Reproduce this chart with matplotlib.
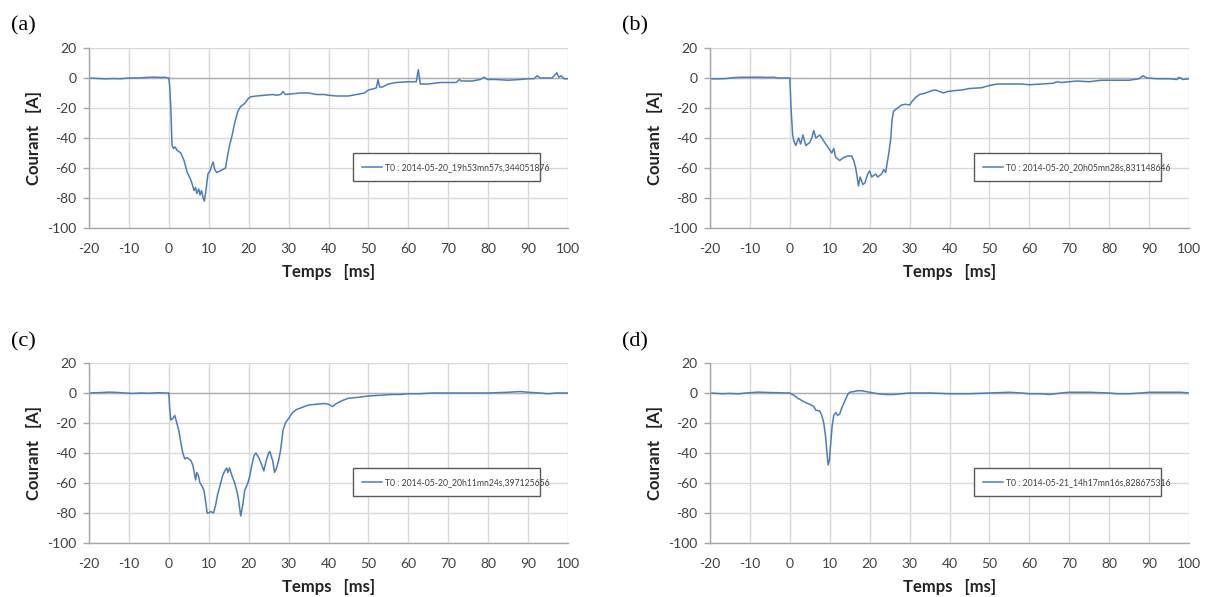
import matplotlib.pyplot as plt
import numpy as np

plt.rcParams['axes.unicode_minus'] = False

# current traces (time in ms, current in A)
t_a = [-20, -18, -16, -14, -12, -10, -8, -6, -4, -2, -1, 0, 0.2, 0.5, 0.8, 1.2, 1.6, 2, 3, 3.8,
       4.3, 4.6, 5, 5.5, 6, 6.3, 6.7, 7, 7.5, 7.8, 8.2, 8.6, 8.9, 9.3, 9.8, 10.3, 10.8, 11.1,
       11.5, 12, 12.8, 13.5, 14.2, 14.7, 15.2, 15.7, 16.5, 17.3, 18, 19, 19.8, 20.5, 22, 24,
       26, 27, 28, 28.6, 29.2, 31, 33, 35, 37, 39, 40, 42, 45, 47, 49, 50, 51.5, 52, 52.4,
       52.8, 53.5, 55, 57, 60, 62, 62.5, 63, 65, 68, 70, 72, 72.8, 73.2, 76, 78, 79, 79.8,
       82, 85, 88, 90, 91.5, 92.3, 93, 96, 97.2, 97.7, 98.3, 99, 100]
i_a = [0, -0.3, -0.6, -0.4, -0.5, 0, 0, 0.3, 0.6, 0.4, 0.5, 0, -5, -20, -45, -47, -46, -48, -50, -55,
       -60, -63, -65, -68, -72, -75, -73, -77, -74, -78, -75, -80, -82, -75, -64, -62, -58, -56,
       -61, -63, -62, -61, -60, -52, -45, -40, -30, -22, -19, -17, -14, -12.5, -12, -11.5,
       -11, -11.5, -11, -9, -11, -10.5, -10, -10, -11, -11, -11.5, -12, -12, -11, -10, -8, -7, -6.5, -1,
       -6, -6, -4, -3, -2.5, -2.5, 5.5, -4, -4, -3, -3, -3, -1, -2, -2, -1, 0.5, -1,
       -1, -1.5, -1, -0.5, -0.5, 1.5, 0, 0, 3.5, 0.5, 1.5, -0.5, -0.5]

t_b = [-20, -18, -16, -14, -12, -10, -8, -6, -4, -3, -1, 0, 0.3, 0.7, 1.0, 1.5, 2.2, 2.7, 3.3, 4.0,
       5, 5.5, 6, 6.5, 7.5, 8.5, 9, 10, 10.5, 11, 11.5, 12.5, 13.5, 14.5, 15.5, 16, 16.5, 16.8,
       17.2, 17.6, 18.3, 18.8, 19.5, 20, 20.5, 21.5, 22, 23, 23.5, 24, 24.3, 24.8, 25.3, 25.6,
       26, 27, 28, 29, 30, 30.5, 31.5, 32.5, 34, 35.5, 36.5, 37.5, 38.5, 39.5, 41, 43, 45, 48,
       50, 52, 55, 58, 60, 63, 66, 67, 68, 72, 75, 78, 81, 85, 87.5, 88.5, 89.5, 92, 95, 97,
       97.5, 98.5, 100]
i_b = [-0.5, -0.6, -0.4, 0.3, 0.5, 0.5, 0.6, 0.4, 0.5, 0, 0, 0, -20, -38, -42, -45, -40, -44, -38, -45,
       -43, -40, -35, -40, -38, -42, -44, -48, -50, -47, -53, -55, -53, -52, -52, -55, -60, -65,
       -72, -66, -71, -70, -64, -62, -66, -64, -66, -64, -61, -63, -58, -50, -40, -28,
       -22, -20, -18, -17.5, -18, -16, -13, -11, -10, -8.5, -8, -9, -10, -9, -8.5, -8, -7, -6.5,
       -5, -4, -4, -4, -4.5, -4, -3.5, -2.5, -3, -2, -2.5, -1.5, -1.5, -1.5, -0.5, 1.5, 0, -0.5, -0.5, -1,
       0.5, -1, -0.5]

t_c = [-20, -17, -15, -13, -11, -9, -7, -5, -3, -1, 0, 0.2, 0.5, 1, 1.5, 2, 2.5, 3, 3.5, 4,
       4.5, 5.5, 6, 6.3, 6.7, 7, 7.4, 7.8, 8.3, 8.8, 9.2, 9.6, 10, 10.5, 11.2, 11.7, 12.2, 12.8,
       13.5, 14, 14.5, 14.8, 15.2, 15.8, 16.5, 17, 17.4, 18, 18.5, 19, 19.8, 20.3, 20.8, 21.3,
       21.8, 22.5, 23.3, 23.8, 24.3, 25, 25.3, 26, 26.5, 27, 27.5, 28, 28.6, 29.2, 30, 31, 32,
       33, 34, 35, 37, 39, 40, 41, 42, 43.5, 45, 47, 50, 53, 56, 58, 60, 63, 66, 70, 75, 80,
       85, 88, 90, 93, 95, 97, 100]
i_c = [0, 0.3, 0.6, 0.4, 0, -0.3, 0, -0.2, 0.2, 0, 0, -10, -18, -17, -15, -20, -25, -33, -40, -44,
       -43, -45, -48, -52, -58, -53, -55, -60, -62, -65, -72, -80, -80, -79, -80, -75, -68, -62,
       -55, -52, -50, -53, -50, -55, -60, -65, -70, -82, -75, -65, -60, -55, -48, -42,
       -40, -43, -48, -52, -46, -40, -39, -45, -53, -50, -45, -38, -25, -20, -17, -13, -11,
       -10, -9, -8, -7.5, -7, -7.5, -9, -7, -5, -3.5, -3, -2, -1.5, -1, -1, -0.5, -0.5, 0, 0, 0, 0,
       0.5, 1, 0.5, 0, -0.5, 0, 0]

t_d = [-20, -17, -15, -13, -11, -8, -5, -3, -1, 0, 1, 2, 3, 4, 5, 6, 6.5, 7.5, 8, 8.5, 9, 9.3,
       9.6, 9.9, 10.2, 10.6, 11, 11.5, 12, 12.5, 13, 13.5, 14, 14.5, 15, 16, 17, 18, 19, 20,
       22, 24, 26, 28, 30, 35, 40, 42, 45, 50, 55, 58, 60, 63, 65, 68, 70, 75, 80, 82, 85, 88,
       90, 95, 98, 100]
i_d = [0, -0.5, -0.3, -0.6, 0, 0.6, 0.3, 0.2, 0, 0, -1.5, -3.5, -5, -6.5, -7.5, -9, -11.5, -12, -15, -20, -30, -40,
       -48, -45, -35, -22, -15, -13, -15, -14, -10, -7, -4, -1, 0.5, 1, 1.5, 1.5, 1, 0.5,
       -0.5, -1, -1, -0.5, 0, 0, -0.5, -0.5, -0.5, 0, 0.5, 0, -0.5, -0.5, -1, 0, 0.5, 0.5, 0, -0.5, -0.5, 0,
       0.5, 0.5, 0.5, 0]

panels = ['(a)', '(b)', '(c)', '(d)']
legends = ['T0 : 2014-05-20_19h53mn57s,344051876',
           'T0 : 2014-05-20_20h05mn28s,831148646',
           'T0 : 2014-05-20_20h11mn24s,397125656',
           'T0 : 2014-05-21_14h17mn16s,828675316']
series = [(t_a, i_a), (t_b, i_b), (t_c, i_c), (t_d, i_d)]

W, H = 1209, 597
fig = plt.figure(figsize=(W / 100, H / 100), dpi=100)

# axes boxes in pixels: left, top, right, bottom
boxes = [(89, 48, 568, 228), (710, 48, 1189, 228), (89, 363, 568, 543), (710, 363, 1189, 543)]
label_pos = [(11, 26), (622, 26), (11, 342), (622, 342)]

txt = '#404040'
for k in range(4):
    l, t, r, b = boxes[k]
    ax = fig.add_axes([l / W, 1 - b / H, (r - l) / W, (b - t) / H])
    tt, ii = series[k]
    ax.plot(tt, ii, color='#4a7ebb', lw=1.1, label=legends[k])
    ax.axhline(0, color='#b0b0b0', lw=1, zorder=1)
    ax.set_xlim(-20, 100)
    ax.set_ylim(-100, 20)
    ax.set_xticks(np.arange(-20, 101, 10))
    ax.set_yticks(np.arange(-100, 21, 20))
    ax.grid(True, color='#d9d9d9', lw=1)
    ax.set_axisbelow(True)
    for s in ['top', 'right']:
        ax.spines[s].set_visible(False)
    for s in ['left', 'bottom']:
        ax.spines[s].set_color('#a6a6a6')
        ax.spines[s].set_linewidth(1)
    ax.tick_params(axis='y', length=4, width=1, color='#a6a6a6', pad=5,
                   labelsize=10, labelcolor=txt)
    ax.tick_params(axis='x', length=0, pad=11, labelsize=10, labelcolor=txt)
    for lab in ax.get_xticklabels() + ax.get_yticklabels():
        lab.set_fontfamily('Lato')
    ax.set_xlabel('Temps   [ms]', fontsize=12, fontweight='bold', family='Lato',
                  color='#222222', labelpad=6)
    ax.set_ylabel('Courant   [A]', fontsize=12, fontweight='bold', family='Lato',
                  color='#222222', labelpad=4)
    leg = ax.legend(loc='center', bbox_to_anchor=(0.542, 0.258, 0.408, 0.159),
                    mode='expand', prop={'family': 'Lato', 'size': 6.2},
                    handlelength=2.3, handletextpad=0.3, borderpad=1.1,
                    fancybox=False, framealpha=1, labelcolor=txt)
    leg.get_frame().set_edgecolor('#595959')
    leg.get_frame().set_linewidth(1)
    fig.text(label_pos[k][0] / W, 1 - label_pos[k][1] / H, panels[k], fontsize=16,
             family='Liberation Serif', ha='left', va='center')

fig.savefig('out.png', dpi=100)
